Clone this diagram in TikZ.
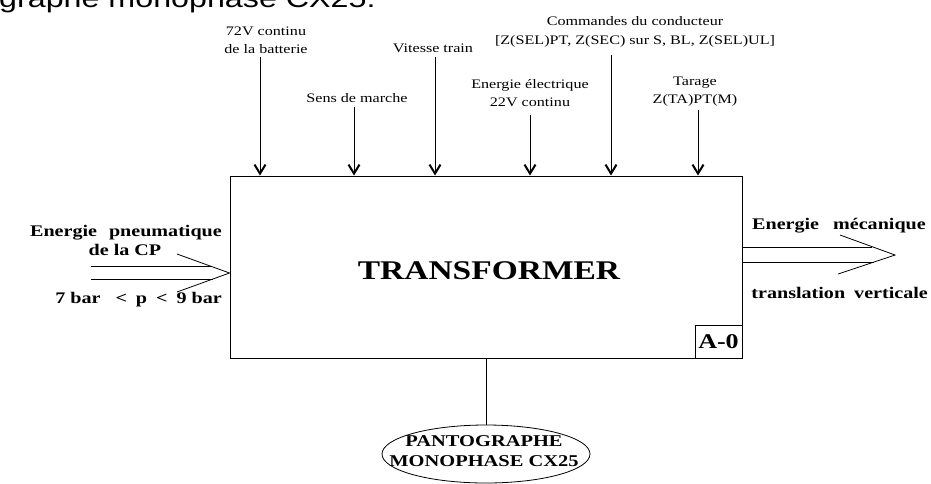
\documentclass[tikz,border=0pt]{standalone}
\usepackage{fontspec}
\setmainfont{Liberation Serif}
\newfontfamily\lab[FakeStretch=1.24]{Liberation Serif}
\newfontfamily\hdr[FakeStretch=1.24]{Liberation Sans}
\usetikzlibrary{arrows.meta,shapes.geometric}
\begin{document}
\begin{tikzpicture}[x=1pt,y=-1pt,
  lbl/.style={font=\lab\fontsize{13}{18}\selectfont, align=center, inner sep=0pt},
  blbl/.style={font=\lab\bfseries\fontsize{16.2}{18}\selectfont, inner sep=0pt},
  inarrow/.style={line width=0.8pt, -{Straight Barb[length=9pt,width=11pt,line width=2pt]}},
  thin/.style={line width=0.8pt},
  boxline/.style={draw, line width=1pt}]
\useasboundingbox (0,0) rectangle (931,483);
\clip (0,0) rectangle (931,483);
% heading cut at top
\node[anchor=base west, inner sep=0pt, font=\hdr\fontsize{26}{26}\selectfont] (hdr) at (-1,7) {graphe monophase CX25:};
% main box
\node[boxline, minimum width=512pt, minimum height=182pt, inner sep=0pt] (box) at (486,267) {};
\node[font=\lab\bfseries\fontsize{27}{27}\selectfont, inner sep=0pt] (tr) at (489,271) {TRANSFORMER};
\node[boxline, minimum width=47pt, minimum height=33pt, inner sep=0pt, font=\lab\bfseries\fontsize{21}{21}\selectfont] (a0) at (718.5,341.5) {A-0};
% top labels
\node[lbl] (l72) at (266,40) {72V continu\\de la batterie};
\node[lbl] (lsens) at (357,98) {Sens de marche};
\node[lbl] (lvit) at (433,48) {Vitesse train};
\node[lbl] (len) at (530,93) {Energie électrique\\22V continu};
\node[lbl, font=\lab\fontsize{13}{19}\selectfont] (lcmd) at (635,32) {Commandes du conducteur\\{}[Z(SEL)PT, Z(SEC) sur S, BL, Z(SEL)UL]};
\node[lbl] (ltar) at (695,92) {Tarage\\Z(TA)PT(M)};
% arrow starts
\coordinate (s72) at (260,57);
\coordinate (ssens) at (354,107);
\coordinate (svit) at (435,57);
\coordinate (sen) at (530,115);
\coordinate (scmd) at (611,55);
\coordinate (star) at (698,110);
\foreach \s in {s72,ssens,svit,sen,scmd,star}
  \draw[inarrow] (\s) -- (\s |- box.north);
% left input
\node[blbl, anchor=east] (lpn) at (222,233) {Energie\hspace{12pt}pneumatique};
\node[blbl] (lcp) at (125,250) {de la CP};
\node[blbl, anchor=east] (lbar) at (222,300) {7 bar\hspace{15pt}<\hspace{9pt}p\hspace{9pt}<\hspace{9pt}9 bar};
\coordinate (ltip) at (box.west |- 0,273);
\coordinate (lu) at (177,254);
\coordinate (ld) at (177,292);
\coordinate (la1) at (91,266);
\coordinate (la2) at (91,279);
\draw[thin] (lu) -- (ltip) -- (ld);
\draw[thin] (la1) -- (212,266);
\draw[thin] (la2) -- (213,279);
% right output
\node[blbl, anchor=west] (lmec) at (752,226) {Energie\hspace{14pt}mécanique};
\node[blbl, anchor=east] (ltrans) at (928,293) {translation\hspace{9pt}verticale};
\coordinate (rtip) at (895,255);
\coordinate (ru) at (840,235);
\coordinate (rd) at (838,274);
\coordinate (rs1) at (box.east |- 0,247);
\coordinate (rs2) at (box.east |- 0,262);
\draw[thin] (ru) -- (rtip) -- (rd);
\draw[thin] (rs1) -- (872,247);
\draw[thin] (rs2) -- (874,262);
% mechanism
\node[draw, ellipse, line width=0.8pt, minimum width=208pt, minimum height=58pt, inner sep=0pt] (pan) at (486,454) {};
\node[font=\lab\bfseries\fontsize{16.5}{20}\selectfont, align=center, inner sep=0pt] (pant) at (484,451) {PANTOGRAPHE\\MONOPHASE CX25};
\draw[thin] (box.south) -- (pan.north);
\end{tikzpicture}
\end{document}
